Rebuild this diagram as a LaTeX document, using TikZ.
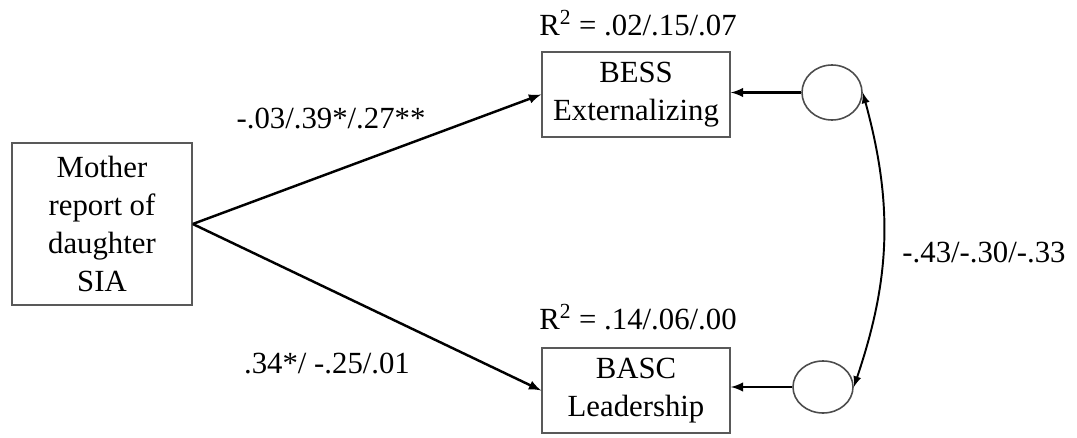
\documentclass[tikz,border=0pt]{standalone}
\usepackage{fontspec}
\setmainfont{Liberation Serif}
\usetikzlibrary{arrows,shapes.geometric}

\begin{document}
\begin{tikzpicture}[font=\fontsize{17.5}{21.5}\selectfont]

\tikzstyle{box}=[draw=black!65,line width=0.9pt,align=center,inner sep=0pt]
\tikzstyle{err}=[draw=black!70,line width=0.9pt,ellipse,inner sep=0pt,minimum width=1.2cm]
\tikzstyle{path}=[line width=1.4pt,-latex]

\useasboundingbox (0,0) rectangle (21.54,8.74);

\node[box,minimum width=3.6cm,minimum height=3.24cm] (mother) at (2.04,4.26) {Mother\\report of\\daughter\\SIA};
\node[box,minimum width=3.76cm,minimum height=1.7cm] (bess) at (12.72,6.85) {BESS\\Externalizing};
\node[box,minimum width=3.76cm,minimum height=1.7cm] (basc) at (12.72,0.93) {BASC\\Leadership};

\node[err,minimum height=1.1cm] (e1) at (16.64,6.89) {};
\node[err,minimum height=1.04cm] (e2) at (16.46,1.0) {};

\node (r1) at (12.76,8.28) {R\textsuperscript{2} = .02/.15/.07};
\node (r2) at (12.76,2.4) {R\textsuperscript{2} = .14/.06/.00};

\node (b1) at (6.62,6.38) {-.03/.39*/.27**};
\node (b2) at (6.54,1.48) {.34*/ -.25/.01};
\node (cov) at (19.68,3.7) {-.43/-.30/-.33};

\draw[path] (mother.east) -- (bess.west);
\draw[path] (mother.east) -- (basc.west);
\draw[path] (e1.west) -- (e1.west -| bess.east);
\draw[path] (e2.west) -- (e2.west -| basc.east);
\draw[line width=1.1pt,latex-latex] (e1.east) to[bend left=17] (e2.east);

\end{tikzpicture}
\end{document}
